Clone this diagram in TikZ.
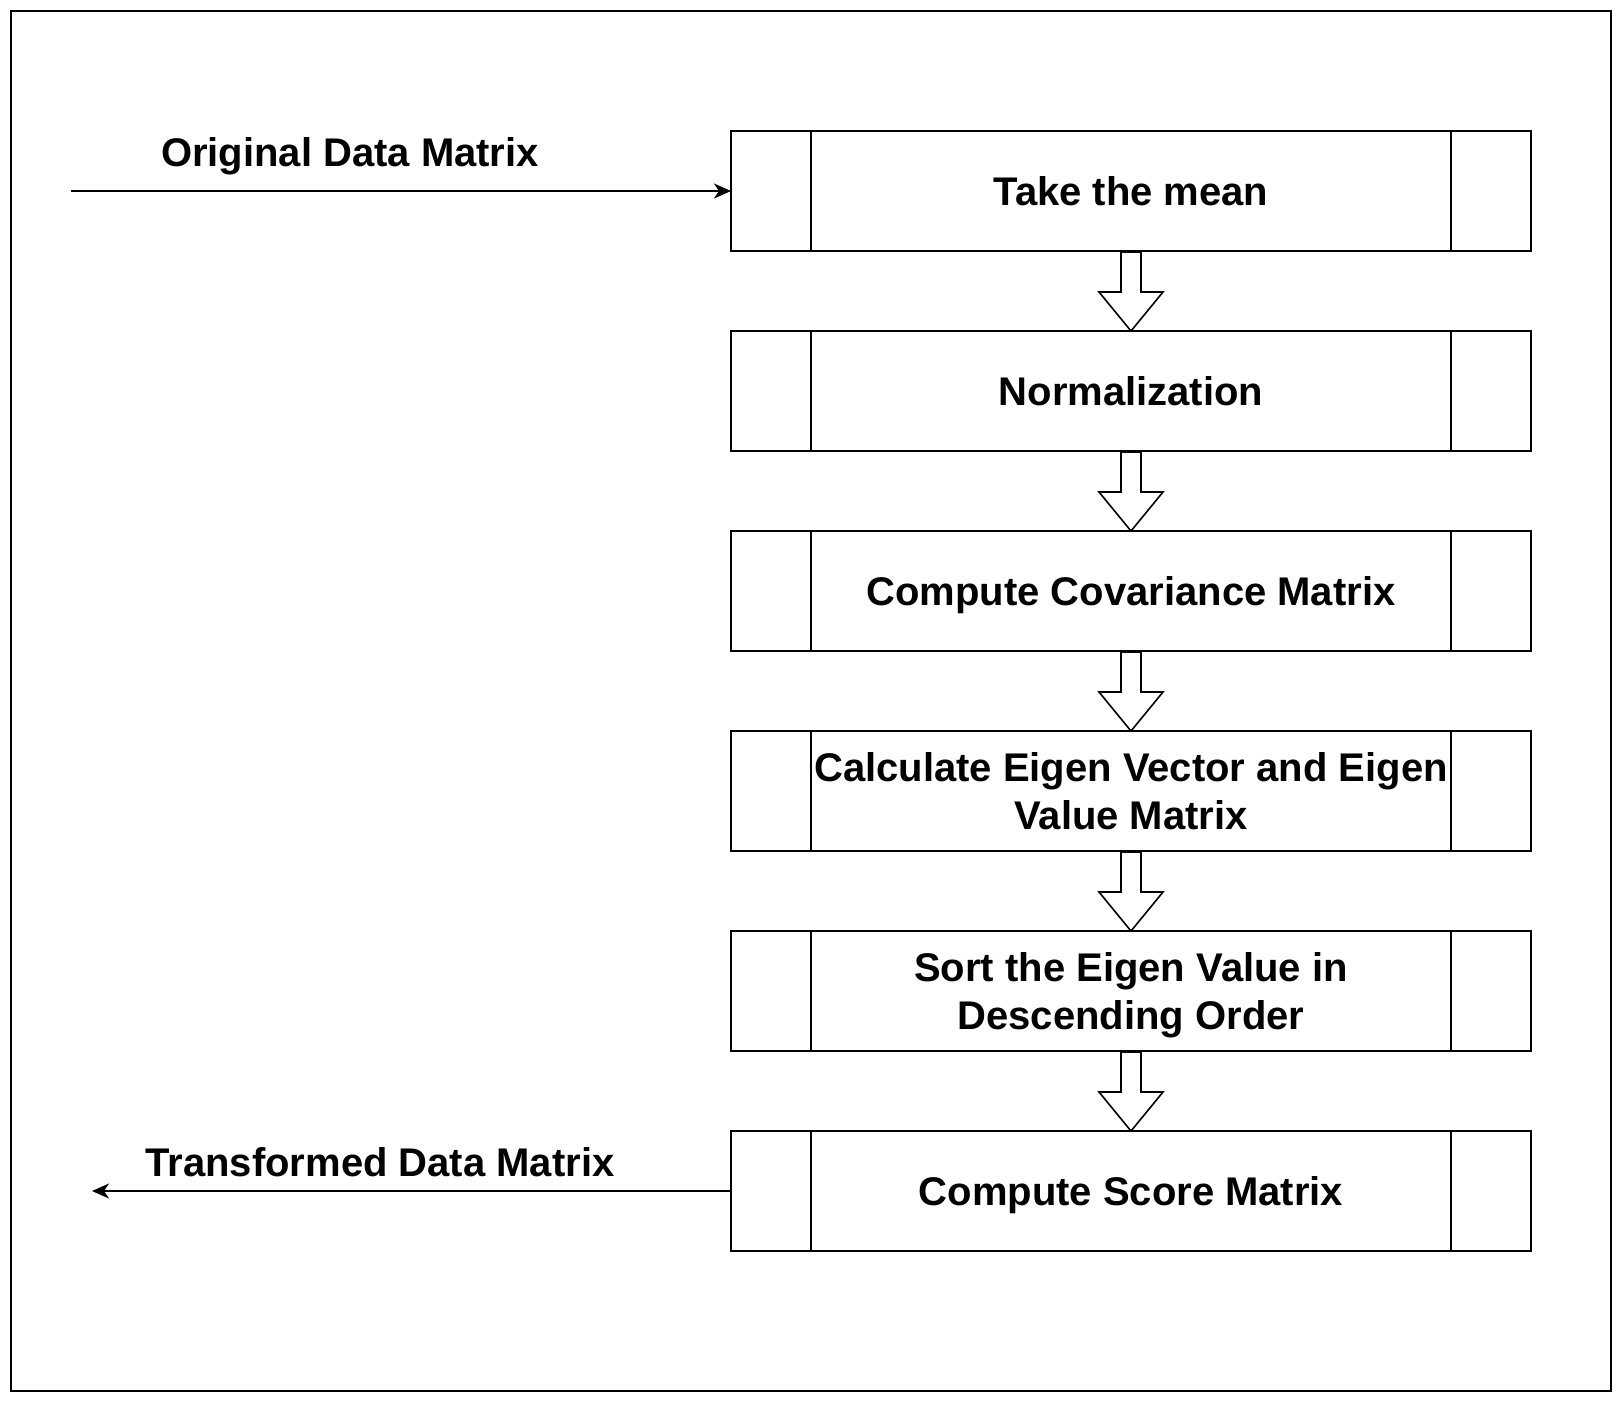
\documentclass[tikz,border=0pt]{standalone}
\usepackage{fontspec}
\setmainfont{Liberation Sans}
\usetikzlibrary{arrows.meta,calc}
\begin{document}
\begin{tikzpicture}[x=1pt,y=-1pt,
  every node/.style={inner sep=0pt,outer sep=0pt},
  lw/.style={line width=1.6pt},
  procbox/.style={lw,draw,minimum width=800pt,minimum height=120pt,
    font=\fontsize{40}{48}\selectfont\bfseries,align=center,
    text height=28.6pt,text depth=0pt},
  twoline/.style={text height=76.6pt,text depth=0pt},
  lbl/.style={font=\fontsize{40}{48}\selectfont\bfseries,anchor=base},
  blockarrow/.style={lw,draw,fill=white,line join=miter},
  flow/.style={lw,-{Stealth[length=17pt,width=15pt,inset=5pt]}}
]
\useasboundingbox (0,0) rectangle (1622,1402);
\draw[lw] (11,11) rectangle (1611,1391);

\node[procbox] (b1) at (1131,191) {Take the mean};
\node[procbox] (b2) at (1131,391) {Normalization};
\node[procbox] (b3) at (1131,591) {Compute Covariance Matrix};
\node[procbox,twoline] (b4) at (1131,791) {Calculate Eigen Vector and Eigen\\Value Matrix};
\node[procbox,twoline] (b5) at (1131,991) {Sort the Eigen Value in\\Descending Order};
\node[procbox] (b6) at (1131,1191) {Compute Score Matrix};

\foreach \b in {b1,b2,b3,b4,b5,b6}{
  \draw[lw] ([xshift=80pt]\b.north west) -- ([xshift=80pt]\b.south west);
  \draw[lw] ([xshift=-80pt]\b.north east) -- ([xshift=-80pt]\b.south east);
}

\foreach \a/\c in {b1/b2,b2/b3,b3/b4,b4/b5,b5/b6}{
  \draw[blockarrow] ($(\a.south)+(-10,1)$) -- ($(\a.south)+(-10,41)$)
    -- ($(\a.south)+(-32,41)$) -- (\c.north) -- ($(\a.south)+(32,41)$)
    -- ($(\a.south)+(10,41)$) -- ($(\a.south)+(10,1)$) -- cycle;
}

\coordinate (inp) at (71,191);
\coordinate (outp) at (92,1191);
\draw[flow] (inp) -- (b1.west);
\draw[flow] (b6.west) -- (outp);

\node[lbl] (l1) at (350,166) {Original Data Matrix};
\node[lbl] (l2) at (380,1176) {Transformed Data Matrix};
\end{tikzpicture}
\end{document}
